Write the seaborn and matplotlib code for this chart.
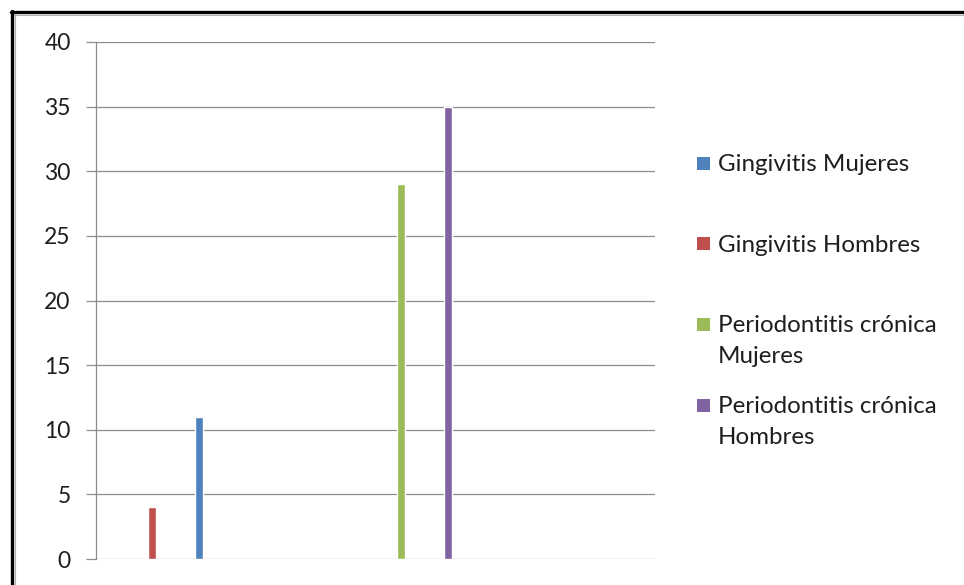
import seaborn as sns
import matplotlib.pyplot as plt
import pandas as pd
from matplotlib.lines import Line2D
from matplotlib.patches import Rectangle

sns.set_theme(style="white")
plt.rcParams['font.family'] = ['Lato', 'DejaVu Sans']

# data
groups = ["Gingivitis", "Gingivitis", "Periodontitis crónica", "Periodontitis crónica"]
series = ["Gingivitis Hombres", "Gingivitis Mujeres",
          "Periodontitis crónica Mujeres", "Periodontitis crónica Hombres"]
values = [4, 11, 29, 35]

# legend order as in the original
legend_order = ["Gingivitis Mujeres", "Gingivitis Hombres",
                "Periodontitis crónica Mujeres", "Periodontitis crónica Hombres"]
legend_labels = ["Gingivitis Mujeres", "Gingivitis Hombres",
                 "Periodontitis crónica\nMujeres", "Periodontitis crónica\nHombres"]

palette = {
    "Gingivitis Mujeres": "#4F81BD",
    "Gingivitis Hombres": "#C0504D",
    "Periodontitis crónica Mujeres": "#9BBB59",
    "Periodontitis crónica Hombres": "#8064A2",
}

df = pd.DataFrame({"grupo": groups, "serie": series, "valor": values})

fig = plt.figure(figsize=(9.64, 5.85), dpi=100)
ax = fig.add_axes([96 / 964, 1 - 559 / 585, (655 - 96) / 964, (559 - 42) / 585])

sns.barplot(data=df, x="grupo", y="valor", hue="serie", hue_order=series,
            palette=palette, dodge=True, width=1.213, gap=0.82,
            legend=False, ax=ax, saturation=1)

ax.set_xlim(-0.816, 2.79)
ax.set_ylim(0, 40)
ax.set_yticks(range(0, 41, 5))
ax.set_xticks([])
ax.set_xlabel("")
ax.set_ylabel("")

grid_col = "#8c8c8c"
ax.yaxis.grid(True, color=grid_col, linewidth=0.9)
ax.set_axisbelow(True)
for side in ["top", "right", "bottom"]:
    ax.spines[side].set_visible(False)
ax.spines["left"].set_color(grid_col)
ax.spines["left"].set_linewidth(0.9)
ax.tick_params(axis="y", direction="out", length=7.2, width=0.9, color=grid_col,
               pad=11, labelsize=16.5, labelcolor="#1e1e1e", left=True)

# legend drawn by hand, Excel style (marker on first line)
for i, (name, lab) in enumerate(zip(legend_order, legend_labels)):
    yc = 163 + i * 80.7
    fig.add_artist(Rectangle((697 / 964, 1 - (yc + 6.5) / 585), 13 / 964, 13 / 585,
                             transform=fig.transFigure, color=palette[name], lw=0))
    for j, line in enumerate(lab.split("\n")):
        fig.text(718 / 964, 1 - (yc + 8 + j * 31) / 585, line, fontsize=17.4,
                 color="#1e1e1e", va="baseline", ha="left")

# outer frame (top and left only, rest is cropped)
fig.add_artist(Line2D([11 / 964, 1], [1 - 12 / 585, 1 - 12 / 585], color="black",
                      lw=2.4, transform=fig.transFigure))
fig.add_artist(Line2D([12 / 964, 12 / 964], [0, 1 - 11 / 585], color="black",
                      lw=2.4, transform=fig.transFigure))
fig.add_artist(Line2D([14 / 964, 1], [1 - 14.5 / 585, 1 - 14.5 / 585], color="#b0b0b0",
                      lw=0.8, transform=fig.transFigure))
fig.add_artist(Line2D([14.5 / 964, 14.5 / 964], [0, 1 - 14 / 585], color="#b0b0b0",
                      lw=0.8, transform=fig.transFigure))

fig.savefig("out.png", dpi=100)
